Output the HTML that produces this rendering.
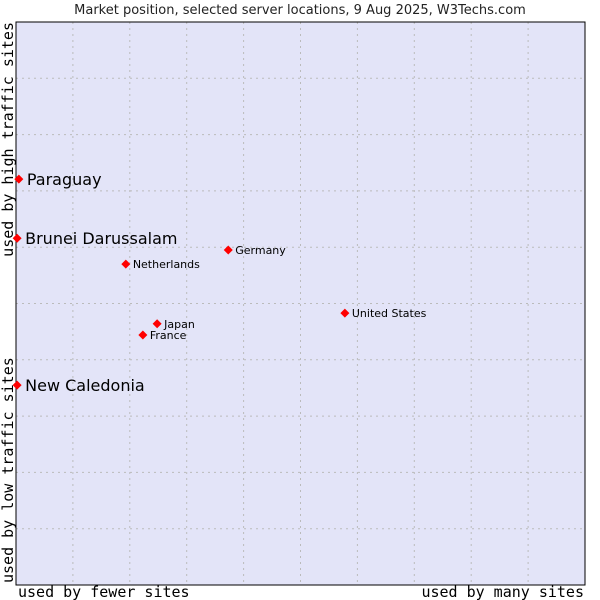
<!DOCTYPE html>
<html><head><meta charset="utf-8"><style>
body{margin:0;background:#fff;}
svg{display:block;font-family:"DejaVu Sans","Liberation Sans",sans-serif;}
</style></head><body>
<svg id="chart" width="600" height="600">
<text x="300" y="14" text-anchor="middle" font-size="13" fill="#222">Market position, selected server locations, 9 Aug 2025, W3Techs.com</text>
<rect x="16" y="22" width="569" height="563" fill="#e3e4f8"/>
<g id="grid"></g>
<rect x="16" y="22" width="569" height="563" fill="none" stroke="#000" stroke-width="1"/>
<text x="18" y="597" font-family="DejaVu Sans Mono,monospace" font-size="15" fill="#000">used by fewer sites</text>
<text x="584" y="597" text-anchor="end" font-family="DejaVu Sans Mono,monospace" font-size="15" fill="#000">used by many sites</text>
<text transform="translate(13,583) rotate(-90)" font-family="DejaVu Sans Mono,monospace" font-size="15" fill="#000">used by low traffic sites</text>
<text transform="translate(13,22) rotate(-90)" text-anchor="end" font-family="DejaVu Sans Mono,monospace" font-size="15" fill="#000">used by high traffic sites</text>
<g id="points"></g>
</svg>
<script>
const names=["Paraguay","Brunei Darussalam","New Caledonia","Netherlands","Germany","United States","Japan","France"];
const xVals=[0.5,0.2,0.2,19.3,37.3,57.8,24.8,22.3];
const yVals=[72.1,61.6,35.5,57.0,59.5,48.3,46.4,44.4];
const big=[true,true,true,false,false,false,false,false];
const L=16,T=22,W=569,H=563;
const sx=v=>L+v/100*W, sy=v=>T+H-v/100*H;
const ns="http://www.w3.org/2000/svg";
const g=document.getElementById('grid');
for(let i=1;i<10;i++){
 const a=document.createElementNS(ns,'line');
 a.setAttribute('x1',sx(i*10));a.setAttribute('x2',sx(i*10));a.setAttribute('y1',T);a.setAttribute('y2',T+H);
 a.setAttribute('stroke','#bbb');a.setAttribute('stroke-dasharray','2,4');
 
 
 g.appendChild(a);
 const b=document.createElementNS(ns,'line');
 b.setAttribute('y1',sy(i*10));b.setAttribute('y2',sy(i*10));b.setAttribute('x1',L);b.setAttribute('x2',L+W);
 b.setAttribute('stroke','#bbb');b.setAttribute('stroke-dasharray','2,4');
 
 
 g.appendChild(b);
}
const p=document.getElementById('points');
names.forEach((n,i)=>{
 const x=sx(xVals[i]),y=sy(yVals[i]);
 const d=document.createElementNS(ns,'polygon');
 d.setAttribute('points',`${x},${y-4.5} ${x+4.5},${y} ${x},${y+4.5} ${x-4.5},${y}`);
 d.setAttribute('fill','#f00');
 
 
 p.appendChild(d);
 const t=document.createElementNS(ns,'text');
 t.setAttribute('x',x+(big[i]?8:7));t.setAttribute('y',y+(big[i]?6:4));
 t.setAttribute('font-size',big[i]?16:11);t.setAttribute('fill','#000');
 t.textContent=n;
 
 
 p.appendChild(t);
});
</script>
</body></html>
